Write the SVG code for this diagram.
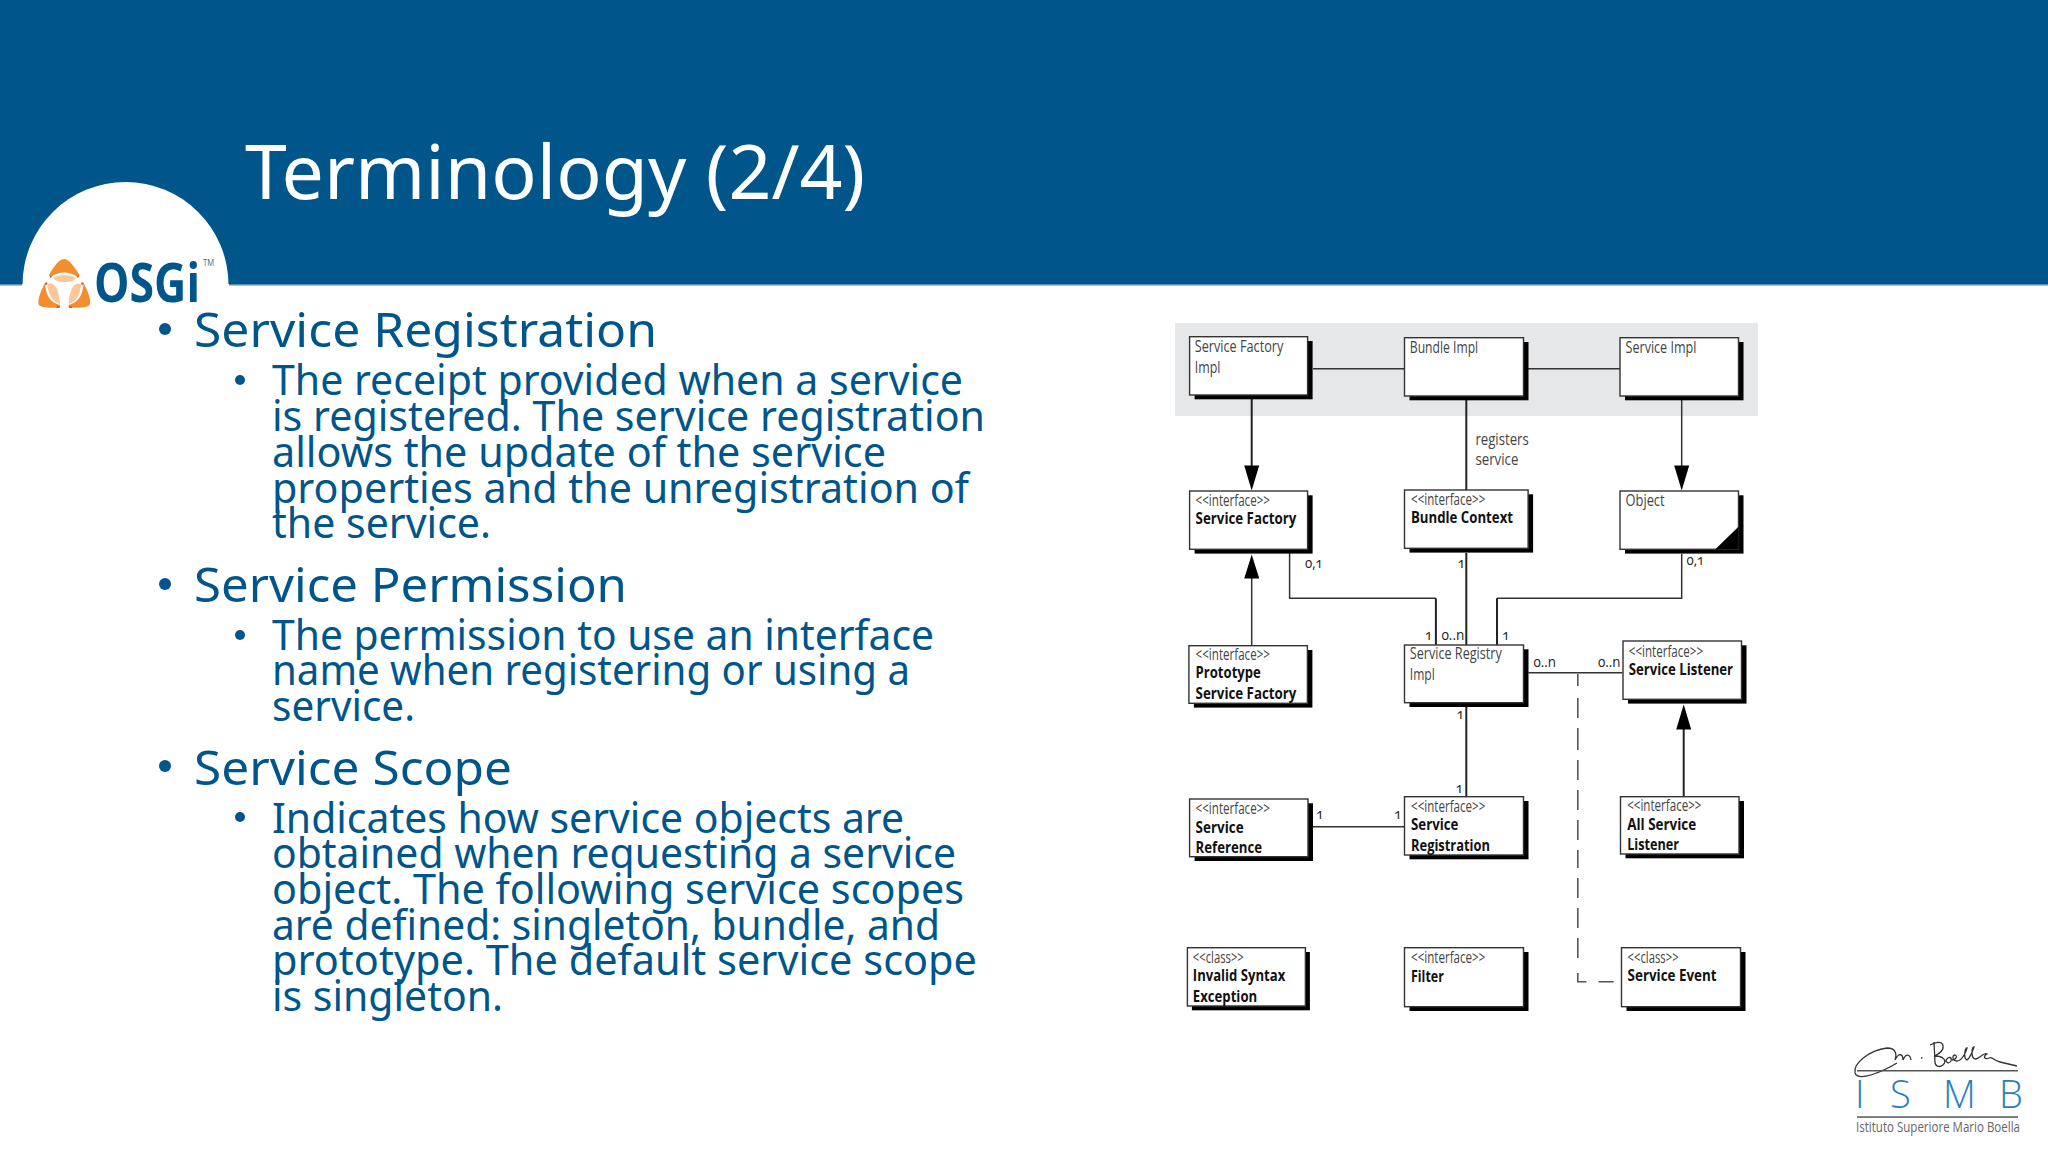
<svg xmlns="http://www.w3.org/2000/svg" width="2048" height="1152" viewBox="0 0 2048 1152">
<style>
.h{font-family:"Noto Sans","Open Sans",sans-serif;font-weight:400;fill:#00568a;font-size:48px}
.s{font-family:"Noto Sans","Open Sans",sans-serif;font-weight:400;fill:#00568a;font-size:41px}
.t{font-family:"Noto Sans","Open Sans",sans-serif;font-weight:400;fill:#fff;font-size:75px}
.r{font-family:"Open Sans","Noto Sans",sans-serif;font-size:15.5px;fill:#444}
.b{font-family:"Open Sans","Noto Sans",sans-serif;font-size:15.5px;font-weight:700;fill:#111}
.m{font-family:"Open Sans","Noto Sans",sans-serif;font-size:14px;fill:#222;font-variant-numeric:oldstyle-nums}
.sh{fill:#000}
.bx{fill:#fff;stroke:#333;stroke-width:1.4}
.c{fill:none;stroke:#333;stroke-width:1.5}
.k{fill:none;stroke:#222;stroke-width:2}
.d{fill:none;stroke:#555;stroke-width:1.6}
.a{fill:#000}
.bl{fill:#00568a}
.o1{fill:#f28e2b}
.o2{fill:#f9c79a}
.o3{fill:#e0562b}
</style>
<rect width="2048" height="1152" fill="#fff"/>
<g id="header">
<rect width="2048" height="284" fill="#00568a"/>
<rect y="284" width="2048" height="1.5" fill="#5a8db0"/>
<circle cx="125.5" cy="285" r="103" fill="#fff"/>
<rect x="22" y="284" width="207" height="3" fill="#fff"/>
<text class="t" x="245" y="199" textLength="620" lengthAdjust="spacingAndGlyphs">Terminology (2/4)</text>
</g>
<g id="osgi-logo">
<path class="o1" d="M64.300 259C68 259 72 263 79.500 275L77.500 277C70 271 58 271 51 277L49 275C56 263 60 259 64.300 259Z"/>
<path class="o2" d="M53 278C60 274 69 274 76 278C72 283.500 57 283.500 53 278Z"/>
<path class="o1" d="M45 283C46 296 50 302 60 305L59 307.500C50 308 42 308 39 305C37 302 40 292 45 283Z"/>
<path class="o1" d="M83.600 283C82.600 296 78.600 302 68.600 305L69.600 307.500C78.600 308 86.600 308 89.600 305C91.600 302 88.600 292 83.600 283Z"/>
<path class="o2" d="M47.500 284C52 282 56 285 58 292C59 296 60 300 60 304C53 302 48 295 47.500 284Z"/>
<path class="o2" d="M81 284C76.600 282 72.600 285 70.600 292C69.600 296 68.600 300 68.600 304C75.600 302 80.600 295 81 284Z"/>
<path class="o3" d="M49.500 274.500l2.500 2.500-2 1zM79 274.500l-2.500 2.500 2 1zM45 283l2 -1 .5 2.500-2.500 .5zM83.600 283l-2 -1-.5 2.500 2.500 .5zM57 306h3l-.5 2h-3zM71.600 306h-3l.5 2h3z"/>
<text x="94" y="302" font-family="Open Sans,sans-serif" font-weight="700" font-size="53" fill="#00568a" textLength="106" lengthAdjust="spacingAndGlyphs">OSGi</text>
<text x="203" y="266" font-family="Open Sans,sans-serif" font-size="8.500" fill="#4a6f8a" textLength="11" lengthAdjust="spacingAndGlyphs">TM</text>
</g>
<g id="body-text">
<circle class="bl" cx="165" cy="329" r="6"/>
<text class="h" x="194" y="347" textLength="463" lengthAdjust="spacingAndGlyphs">Service Registration</text>
<circle class="bl" cx="240" cy="380" r="5"/>
<text class="s" x="272" y="395" textLength="691" lengthAdjust="spacingAndGlyphs">The receipt provided when a service</text>
<text class="s" x="272" y="431" textLength="713" lengthAdjust="spacingAndGlyphs">is registered. The service registration</text>
<text class="s" x="272" y="467" textLength="614" lengthAdjust="spacingAndGlyphs">allows the update of the service</text>
<text class="s" x="272" y="502.700" textLength="697" lengthAdjust="spacingAndGlyphs">properties and the unregistration of</text>
<text class="s" x="272" y="538" textLength="219" lengthAdjust="spacingAndGlyphs">the service.</text>
<circle class="bl" cx="165" cy="584" r="6"/>
<text class="h" x="194" y="601.700" textLength="433" lengthAdjust="spacingAndGlyphs">Service Permission</text>
<circle class="bl" cx="240" cy="635" r="5"/>
<text class="s" x="272" y="649.700" textLength="662" lengthAdjust="spacingAndGlyphs">The permission to use an interface</text>
<text class="s" x="272" y="685.400" textLength="638" lengthAdjust="spacingAndGlyphs">name when registering or using a</text>
<text class="s" x="272" y="721" textLength="143" lengthAdjust="spacingAndGlyphs">service.</text>
<circle class="bl" cx="165" cy="766" r="6"/>
<text class="h" x="194" y="784.500" textLength="318" lengthAdjust="spacingAndGlyphs">Service Scope</text>
<circle class="bl" cx="240" cy="817" r="5"/>
<text class="s" x="272" y="832.500" textLength="632" lengthAdjust="spacingAndGlyphs">Indicates how service objects are</text>
<text class="s" x="272" y="868.200" textLength="684" lengthAdjust="spacingAndGlyphs">obtained when requesting a service</text>
<text class="s" x="272" y="904" textLength="692" lengthAdjust="spacingAndGlyphs">object. The following service scopes</text>
<text class="s" x="272" y="939.600" textLength="668" lengthAdjust="spacingAndGlyphs">are defined: singleton, bundle, and</text>
<text class="s" x="272" y="975.300" textLength="705" lengthAdjust="spacingAndGlyphs">prototype. The default service scope</text>
<text class="s" x="272" y="1011" textLength="231" lengthAdjust="spacingAndGlyphs">is singleton.</text>
</g>
<rect id="impl-band" x="1175" y="323" width="583" height="93" fill="#e6e7e8"/>
<g id="connectors">
<path class="c" d="M1313 368.700H1404M1527.600 368.700H1620"/>
<path class="k" d="M1251.700 399V470"/>
<path class="k" d="M1466.300 400V490"/>
<path class="c" d="M1681.700 400V470"/>
<path class="c" d="M1251.700 645.700V575"/>
<path class="c" d="M1289.600 553V598.300H1435.900"/>
<path class="k" d="M1435.900 598.300V645"/>
<path class="k" d="M1466.300 553V645"/>
<path class="c" d="M1681.700 554V598.300H1497"/>
<path class="k" d="M1497 598.300V645"/>
<path class="c" d="M1528.400 672.700H1622.500"/>
<path class="k" d="M1466.300 707V796.700"/>
<path class="c" d="M1313 826.700H1404"/>
<path class="k" d="M1683.700 796.700V725"/>
<path class="d" d="M1577.800 674V686M1577.800 698V718M1577.800 728V750M1577.800 760V780M1577.800 790V810M1577.800 820V840M1577.800 850V868M1577.800 878V898M1577.800 908V928M1577.800 938V958M1577.800 973V981.700H1586.500M1598.500 981.700H1613.700"/>
<polygon class="a" points="1244.200,465.500 1259.200,465.500 1251.700,490.500"/>
<polygon class="a" points="1674.200,465.500 1689.200,465.500 1681.700,490.500"/>
<polygon class="a" points="1244.200,578.500 1259.200,578.500 1251.700,554.500"/>
<polygon class="a" points="1676.200,729.500 1691.200,729.500 1683.700,704.500"/>
</g>
<g id="connector-labels">
<text class="r" x="1475.400" y="445" textLength="53.400" lengthAdjust="spacingAndGlyphs">registers</text>
<text class="r" x="1475.400" y="465.300" textLength="43" lengthAdjust="spacingAndGlyphs">service</text>
<text class="m" x="1305" y="568.300" textLength="17.800" lengthAdjust="spacingAndGlyphs">0,1</text>
<text class="m" x="1457.600" y="568.300">1</text>
<text class="m" x="1686.500" y="565" textLength="17.800" lengthAdjust="spacingAndGlyphs">0,1</text>
<text class="m" x="1424.800" y="640">1</text>
<text class="m" x="1441.400" y="640" textLength="23" lengthAdjust="spacingAndGlyphs">0..n</text>
<text class="m" x="1502" y="640">1</text>
<text class="m" x="1533.500" y="667.300" textLength="22.500" lengthAdjust="spacingAndGlyphs">0..n</text>
<text class="m" x="1598" y="667.300" textLength="22.500" lengthAdjust="spacingAndGlyphs">0..n</text>
<text class="m" x="1456.400" y="719.300">1</text>
<text class="m" x="1455.600" y="793.300">1</text>
<text class="m" x="1316" y="819">1</text>
<text class="m" x="1394" y="819">1</text>
</g>
<g id="node-service-factory-impl">
<rect class="sh" x="1194.600" y="341" width="118" height="58.300"/><rect class="bx" x="1189.600" y="336.700" width="118" height="58.300"/>
<text class="r" x="1194.800" y="351.700" textLength="88.500" lengthAdjust="spacingAndGlyphs">Service Factory</text>
<text class="r" x="1194.800" y="372.700" textLength="25.700" lengthAdjust="spacingAndGlyphs">Impl</text>
</g>
<g id="node-bundle-impl">
<rect class="sh" x="1409.500" y="342" width="119" height="58.300"/><rect class="bx" x="1404.500" y="337.700" width="119" height="58.300"/>
<text class="r" x="1409.800" y="352.700" textLength="68.400" lengthAdjust="spacingAndGlyphs">Bundle Impl</text>
</g>
<g id="node-service-impl">
<rect class="sh" x="1625" y="342" width="118.500" height="58.300"/><rect class="bx" x="1620" y="337.700" width="118.500" height="58.300"/>
<text class="r" x="1625.600" y="352.700" textLength="70.800" lengthAdjust="spacingAndGlyphs">Service Impl</text>
</g>
<g id="node-service-factory">
<rect class="sh" x="1194.600" y="495.300" width="118" height="58.300"/><rect class="bx" x="1189.600" y="491" width="118" height="58.300"/>
<text class="r" x="1195.600" y="505.700" textLength="74.300" lengthAdjust="spacingAndGlyphs">&lt;&lt;interface&gt;&gt;</text>
<text class="b" x="1195.600" y="524" textLength="100.800" lengthAdjust="spacingAndGlyphs">Service Factory</text>
</g>
<g id="node-bundle-context">
<rect class="sh" x="1409.500" y="494.300" width="123.600" height="58.300"/><rect class="bx" x="1404.500" y="490" width="123.600" height="58.300"/>
<text class="r" x="1411" y="505" textLength="74.300" lengthAdjust="spacingAndGlyphs">&lt;&lt;interface&gt;&gt;</text>
<text class="b" x="1411" y="523.300" textLength="102" lengthAdjust="spacingAndGlyphs">Bundle Context</text>
</g>
<g id="node-object">
<rect class="sh" x="1625" y="495.300" width="118.500" height="58.300"/><rect class="bx" x="1620" y="491" width="118.500" height="58.300"/>
<polygon class="a" points="1715.300,549.300 1738.500,526.700 1738.500,549.300"/>
<text class="r" x="1625.600" y="506" textLength="39" lengthAdjust="spacingAndGlyphs">Object</text>
</g>
<g id="node-prototype-service-factory">
<rect class="sh" x="1193.900" y="650" width="118.500" height="57.600"/><rect class="bx" x="1188.900" y="645.700" width="118.500" height="57.600"/>
<text class="r" x="1195.600" y="660" textLength="74.300" lengthAdjust="spacingAndGlyphs">&lt;&lt;interface&gt;&gt;</text>
<text class="b" x="1195.600" y="678.300" textLength="65.200" lengthAdjust="spacingAndGlyphs">Prototype</text>
<text class="b" x="1195.600" y="699.300" textLength="100.800" lengthAdjust="spacingAndGlyphs">Service Factory</text>
</g>
<g id="node-service-registry-impl">
<rect class="sh" x="1409.500" y="649.300" width="119" height="57.700"/><rect class="bx" x="1404.500" y="645" width="119" height="57.700"/>
<text class="r" x="1409.800" y="659" textLength="92" lengthAdjust="spacingAndGlyphs">Service Registry</text>
<text class="r" x="1409.800" y="680" textLength="25" lengthAdjust="spacingAndGlyphs">Impl</text>
</g>
<g id="node-service-listener">
<rect class="sh" x="1628" y="645.300" width="118.500" height="58.300"/><rect class="bx" x="1623" y="641" width="118.500" height="58.300"/>
<text class="r" x="1628.800" y="656.700" textLength="74.300" lengthAdjust="spacingAndGlyphs">&lt;&lt;interface&gt;&gt;</text>
<text class="b" x="1628.800" y="675" textLength="104.300" lengthAdjust="spacingAndGlyphs">Service Listener</text>
</g>
<g id="node-service-reference">
<rect class="sh" x="1194.600" y="803.300" width="118.400" height="57.700"/><rect class="bx" x="1189.600" y="799" width="118.400" height="57.700"/>
<text class="r" x="1195.600" y="814.300" textLength="74.300" lengthAdjust="spacingAndGlyphs">&lt;&lt;interface&gt;&gt;</text>
<text class="b" x="1195.600" y="832.700" textLength="48" lengthAdjust="spacingAndGlyphs">Service</text>
<text class="b" x="1195.600" y="853.300" textLength="66.400" lengthAdjust="spacingAndGlyphs">Reference</text>
</g>
<g id="node-service-registration">
<rect class="sh" x="1409.500" y="801" width="119" height="58.300"/><rect class="bx" x="1404.500" y="796.700" width="119" height="58.300"/>
<text class="r" x="1411" y="811.700" textLength="74.300" lengthAdjust="spacingAndGlyphs">&lt;&lt;interface&gt;&gt;</text>
<text class="b" x="1411" y="830" textLength="47.400" lengthAdjust="spacingAndGlyphs">Service</text>
<text class="b" x="1411" y="851" textLength="79" lengthAdjust="spacingAndGlyphs">Registration</text>
</g>
<g id="node-all-service-listener">
<rect class="sh" x="1625.500" y="801" width="118.500" height="57.300"/><rect class="bx" x="1620.500" y="796.700" width="118.500" height="57.300"/>
<text class="r" x="1627.200" y="811" textLength="74.300" lengthAdjust="spacingAndGlyphs">&lt;&lt;interface&gt;&gt;</text>
<text class="b" x="1627.200" y="830" textLength="69" lengthAdjust="spacingAndGlyphs">All Service</text>
<text class="b" x="1627.200" y="850" textLength="51.800" lengthAdjust="spacingAndGlyphs">Listener</text>
</g>
<g id="node-invalid-syntax-exception">
<rect class="sh" x="1191.900" y="952" width="118" height="58.300"/><rect class="bx" x="1187.400" y="947.700" width="118" height="58.300"/>
<text class="r" x="1192.800" y="962.700" textLength="51" lengthAdjust="spacingAndGlyphs">&lt;&lt;class&gt;&gt;</text>
<text class="b" x="1192.800" y="980.700" textLength="92.500" lengthAdjust="spacingAndGlyphs">Invalid Syntax</text>
<text class="b" x="1192.800" y="1001.700" textLength="64.400" lengthAdjust="spacingAndGlyphs">Exception</text>
</g>
<g id="node-filter">
<rect class="sh" x="1409.500" y="952" width="119" height="59"/><rect class="bx" x="1404.500" y="947.700" width="119" height="59"/>
<text class="r" x="1411" y="963.300" textLength="74.300" lengthAdjust="spacingAndGlyphs">&lt;&lt;interface&gt;&gt;</text>
<text class="b" x="1411" y="981.700" textLength="32.800" lengthAdjust="spacingAndGlyphs">Filter</text>
</g>
<g id="node-service-event">
<rect class="sh" x="1626.500" y="952" width="119" height="59"/><rect class="bx" x="1621.500" y="947.700" width="119" height="59"/>
<text class="r" x="1627.600" y="962.700" textLength="51" lengthAdjust="spacingAndGlyphs">&lt;&lt;class&gt;&gt;</text>
<text class="b" x="1627.600" y="980.700" textLength="89" lengthAdjust="spacingAndGlyphs">Service Event</text>
</g>
<g id="ismb-logo">
<path d="M1897 1063C1882 1072 1858 1082 1855 1073C1853 1063 1870 1050 1887 1048C1896 1048 1897 1054 1895 1060C1899 1052 1903 1054 1903 1060C1906 1053 1910 1054 1911 1060M1921 1058h1.500M1930 1045C1937 1041 1944 1041 1943 1048C1942 1053 1937 1054 1935 1056C1942 1056 1948 1060 1943 1065C1939 1068 1935 1066 1935 1062L1934 1042M1946 1060C1949 1056 1952 1057 1951 1061C1949 1064 1946 1063 1946 1060M1952 1060C1956 1060 1958 1056 1955 1055C1952 1055 1952 1061 1957 1061C1962 1061 1966 1052 1967 1048C1965 1048 1963 1058 1967 1060C1970 1058 1973 1050 1974 1047C1972 1047 1970 1059 1976 1059C1980 1058 1984 1052 1987 1054C1983 1056 1984 1060 1989 1058C1992 1056 1992 1060 2000 1062L2017 1066" fill="none" stroke="#333" stroke-width="1.300"/>
<rect x="1857" y="1070" width="161" height="1.500" fill="#555"/>
<rect x="1857" y="1116.300" width="161" height="1.500" fill="#555"/>
<g font-family="Open Sans,sans-serif" font-weight="300" font-size="38" fill="#2a7fb8">
<text x="1855" y="1108">I</text>
<text x="1890" y="1108">S</text>
<text x="1943" y="1108">M</text>
<text x="1999" y="1108">B</text>
</g>
<text x="1856" y="1131.700" font-family="Open Sans,sans-serif" font-size="14" fill="#666" textLength="164" lengthAdjust="spacingAndGlyphs">Istituto Superiore Mario Boella</text>
</g>
</svg>
